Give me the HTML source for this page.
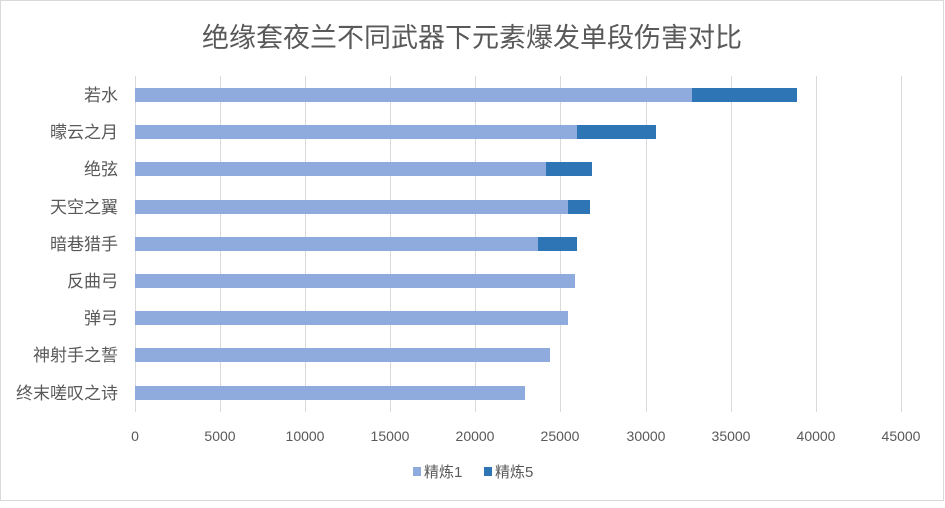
<!DOCTYPE html>
<html><head><meta charset="utf-8"><style>
body{margin:0;background:#fff;}
svg text{font-family:"Liberation Sans","Noto Sans CJK SC",sans-serif;fill:#595959;}
</style></head><body>
<svg width="945" height="503" viewBox="0 0 945 503" xmlns="http://www.w3.org/2000/svg">
<rect x="0.5" y="0.5" width="943" height="500" fill="#fff" stroke="#d9d9d9"/>
<text x="472" y="47" font-size="27" text-anchor="middle">绝缘套夜兰不同武器下元素爆发单段伤害对比</text>
<g stroke="#d9d9d9" stroke-width="1">
<line x1="135.5" y1="76" x2="135.5" y2="412"/>
<line x1="220.5" y1="76" x2="220.5" y2="412"/>
<line x1="305.5" y1="76" x2="305.5" y2="412"/>
<line x1="390.5" y1="76" x2="390.5" y2="412"/>
<line x1="475.5" y1="76" x2="475.5" y2="412"/>
<line x1="560.5" y1="76" x2="560.5" y2="412"/>
<line x1="646.5" y1="76" x2="646.5" y2="412"/>
<line x1="731.5" y1="76" x2="731.5" y2="412"/>
<line x1="816.5" y1="76" x2="816.5" y2="412"/>
<line x1="901.5" y1="76" x2="901.5" y2="412"/>
</g>
<g fill="#8faadc">
<rect x="135" y="88" width="557" height="14"/>
<rect x="135" y="125" width="442" height="14"/>
<rect x="135" y="162" width="411" height="14"/>
<rect x="135" y="200" width="433" height="14"/>
<rect x="135" y="237" width="403" height="14"/>
<rect x="135" y="274" width="440" height="14"/>
<rect x="135" y="311" width="433" height="14"/>
<rect x="135" y="348" width="415" height="14"/>
<rect x="135" y="386" width="390" height="14"/>
</g>
<g fill="#2e75b6">
<rect x="692" y="88" width="105" height="14"/>
<rect x="577" y="125" width="79" height="14"/>
<rect x="546" y="162" width="46" height="14"/>
<rect x="568" y="200" width="22" height="14"/>
<rect x="538" y="237" width="39" height="14"/>
</g>
<g font-size="17" text-anchor="end">
<text x="118" y="101">若水</text>
<text x="118" y="138">曚云之月</text>
<text x="118" y="175">绝弦</text>
<text x="118" y="213">天空之翼</text>
<text x="118" y="250">暗巷猎手</text>
<text x="118" y="287">反曲弓</text>
<text x="118" y="324">弹弓</text>
<text x="118" y="361">神射手之誓</text>
<text x="118" y="399">终末嗟叹之诗</text>
</g>
<g font-size="14" text-anchor="middle">
<text x="135" y="441">0</text>
<text x="220" y="441">5000</text>
<text x="305" y="441">10000</text>
<text x="390" y="441">15000</text>
<text x="475" y="441">20000</text>
<text x="560" y="441">25000</text>
<text x="646" y="441">30000</text>
<text x="731" y="441">35000</text>
<text x="816" y="441">40000</text>
<text x="901" y="441">45000</text>
</g>
<rect x="413" y="467" width="8" height="9" fill="#8faadc"/>
<text x="424" y="477" font-size="15">精炼1</text>
<rect x="484" y="467" width="8" height="9" fill="#2e75b6"/>
<text x="495" y="477" font-size="15">精炼5</text>
</svg>
</body></html>
